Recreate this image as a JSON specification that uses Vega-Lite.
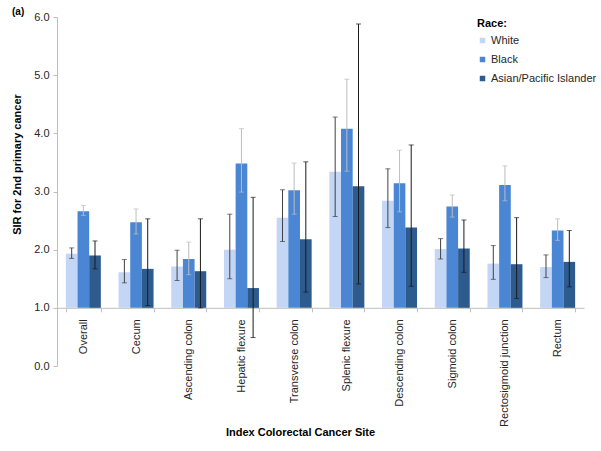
{
  "$schema": "https://vega.github.io/schema/vega-lite/v6.json",
  "autosize": {"type": "none"},
  "width": 527,
  "height": 349,
  "padding": {"left": 57, "top": 17, "right": 17, "bottom": 85},
  "background": "white",
  "title": {"text": "(a)", "anchor": "start", "frame": "group", "dx": -45, "dy": 10, "fontSize": 10, "fontWeight": "bold", "font": "Liberation Sans", "color": "#000000"},
  "config": {
    "view": {"stroke": null},
    "font": "Liberation Sans"
  },
  "data": {
    "values": [
      {"site": "Overall", "race": "White", "sir": 1.93, "lo": 1.85, "hi": 2.03},
      {"site": "Overall", "race": "Black", "sir": 2.66, "lo": 2.59, "hi": 2.76},
      {"site": "Overall", "race": "Asian/Pacific Islander", "sir": 1.90, "lo": 1.67, "hi": 2.15},
      {"site": "Cecum", "race": "White", "sir": 1.61, "lo": 1.43, "hi": 1.83},
      {"site": "Cecum", "race": "Black", "sir": 2.47, "lo": 2.27, "hi": 2.70},
      {"site": "Cecum", "race": "Asian/Pacific Islander", "sir": 1.67, "lo": 1.04, "hi": 2.53},
      {"site": "Ascending colon", "race": "White", "sir": 1.71, "lo": 1.47, "hi": 1.99},
      {"site": "Ascending colon", "race": "Black", "sir": 1.84, "lo": 1.57, "hi": 2.13},
      {"site": "Ascending colon", "race": "Asian/Pacific Islander", "sir": 1.63, "lo": 1.00, "hi": 2.53},
      {"site": "Hepatic flexure", "race": "White", "sir": 2.00, "lo": 1.50, "hi": 2.61},
      {"site": "Hepatic flexure", "race": "Black", "sir": 3.48, "lo": 2.99, "hi": 4.08},
      {"site": "Hepatic flexure", "race": "Asian/Pacific Islander", "sir": 1.34, "lo": 0.49, "hi": 2.90},
      {"site": "Transverse colon", "race": "White", "sir": 2.55, "lo": 2.14, "hi": 3.03},
      {"site": "Transverse colon", "race": "Black", "sir": 3.02, "lo": 2.61, "hi": 3.49},
      {"site": "Transverse colon", "race": "Asian/Pacific Islander", "sir": 2.18, "lo": 1.27, "hi": 3.51},
      {"site": "Splenic flexure", "race": "White", "sir": 3.34, "lo": 2.57, "hi": 4.28},
      {"site": "Splenic flexure", "race": "Black", "sir": 4.08, "lo": 3.35, "hi": 4.93},
      {"site": "Splenic flexure", "race": "Asian/Pacific Islander", "sir": 3.09, "lo": 1.41, "hi": 5.88},
      {"site": "Descending colon", "race": "White", "sir": 2.84, "lo": 2.38, "hi": 3.39},
      {"site": "Descending colon", "race": "Black", "sir": 3.14, "lo": 2.65, "hi": 3.71},
      {"site": "Descending colon", "race": "Asian/Pacific Islander", "sir": 2.38, "lo": 1.37, "hi": 3.80},
      {"site": "Sigmoid colon", "race": "White", "sir": 2.01, "lo": 1.84, "hi": 2.19},
      {"site": "Sigmoid colon", "race": "Black", "sir": 2.74, "lo": 2.56, "hi": 2.94},
      {"site": "Sigmoid colon", "race": "Asian/Pacific Islander", "sir": 2.02, "lo": 1.61, "hi": 2.51},
      {"site": "Rectosigmoid junction", "race": "White", "sir": 1.76, "lo": 1.49, "hi": 2.07},
      {"site": "Rectosigmoid junction", "race": "Black", "sir": 3.11, "lo": 2.84, "hi": 3.44},
      {"site": "Rectosigmoid junction", "race": "Asian/Pacific Islander", "sir": 1.75, "lo": 1.16, "hi": 2.55},
      {"site": "Rectum", "race": "White", "sir": 1.70, "lo": 1.52, "hi": 1.91},
      {"site": "Rectum", "race": "Black", "sir": 2.33, "lo": 2.16, "hi": 2.53},
      {"site": "Rectum", "race": "Asian/Pacific Islander", "sir": 1.79, "lo": 1.36, "hi": 2.33}
    ]
  },
  "encoding": {
    "x": {
      "field": "site",
      "type": "nominal",
      "sort": ["Overall", "Cecum", "Ascending colon", "Hepatic flexure", "Transverse colon", "Splenic flexure", "Descending colon", "Sigmoid colon", "Rectosigmoid junction", "Rectum"],
      "scale": {"paddingInner": 0.336, "paddingOuter": 0.168},
      "axis": {
        "title": "Index Colorectal Cancer Site",
        "titleFontSize": 11,
        "titleFontWeight": "bold",
        "titleColor": "#000000",
        "titleX": 243,
        "titleY": 125,
        "titleAnchor": null,
        "titleAlign": "center",
        "titleBaseline": "middle",
        "labelAngle": -90,
        "labelFontSize": 11,
        "labelColor": "#262626",
        "labelPadding": 7,
        "offset": -58.2,
        "domainColor": "#bfbfbf",
        "tickColor": "#bfbfbf",
        "tickSize": 4,
        "tickBand": "extent",
        "grid": false
      }
    },
    "xOffset": {
      "field": "race",
      "type": "nominal",
      "sort": ["White", "Black", "Asian/Pacific Islander"],
      "scale": {"paddingInner": 0, "paddingOuter": 0}
    }
  },
  "layer": [
    {
      "mark": {"type": "bar", "cornerRadius": 0},
      "encoding": {
        "y": {
          "field": "sir",
          "type": "quantitative",
          "scale": {"domain": [0, 6], "nice": false, "zero": true},
          "axis": {
            "title": "SIR for 2nd primary cancer",
            "titleFontSize": 11,
            "titleFontWeight": "bold",
            "titleColor": "#000000",
            "titleAngle": 270,
            "titleX": -40,
            "titleY": 147,
            "titleAnchor": null,
            "titleAlign": "center",
            "titleBaseline": "middle",
            "values": [0, 0.5, 1, 1.5, 2, 2.5, 3, 3.5, 4, 4.5, 5, 5.5, 6],
            "labelExpr": "datum.value % 1 === 0 ? format(datum.value, '.1f') : ''",
            "labelFontSize": 11,
            "labelColor": "#262626",
            "labelPadding": 4,
            "domainColor": "#bfbfbf",
            "tickColor": "#bfbfbf",
            "tickSize": 4,
            "grid": false
          }
        },
        "y2": {"datum": 1},
        "color": {
          "field": "race",
          "type": "nominal",
          "sort": ["White", "Black", "Asian/Pacific Islander"],
          "scale": {"domain": ["White", "Black", "Asian/Pacific Islander"], "range": ["#c3d6f5", "#4a86d4", "#2e5b8e"]},
          "legend": {
            "title": "Race:",
            "orient": "none",
            "legendX": 420,
            "legendY": 1,
            "titleFontSize": 11,
            "titleFontWeight": "bold",
            "titleColor": "#000000",
            "titlePadding": 6,
            "labelFontSize": 11,
            "labelColor": "#262626",
            "labelOffset": 3,
            "symbolType": "square",
            "symbolSize": 30,
            "symbolStrokeWidth": 0,
            "rowPadding": 7
          }
        }
      }
    },
    {
      "mark": {"type": "rule", "strokeWidth": 1},
      "encoding": {
        "y": {"field": "lo", "type": "quantitative"},
        "y2": {"field": "hi"},
        "stroke": {
          "field": "race",
          "type": "nominal",
          "scale": {"domain": ["White", "Black", "Asian/Pacific Islander"], "range": ["#404040", "#bdbdbd", "#1a1a1a"]},
          "legend": null
        }
      }
    },
    {
      "mark": {"type": "tick", "size": 5, "thickness": 1},
      "encoding": {
        "y": {"field": "hi", "type": "quantitative"},
        "color": {
          "field": "race",
          "type": "nominal",
          "scale": {"domain": ["White", "Black", "Asian/Pacific Islander"], "range": ["#404040", "#bdbdbd", "#1a1a1a"]},
          "legend": null
        }
      }
    },
    {
      "mark": {"type": "tick", "size": 5, "thickness": 1},
      "encoding": {
        "y": {"field": "lo", "type": "quantitative"},
        "color": {
          "field": "race",
          "type": "nominal",
          "scale": {"domain": ["White", "Black", "Asian/Pacific Islander"], "range": ["#404040", "#bdbdbd", "#1a1a1a"]},
          "legend": null
        }
      }
    }
  ],
  "resolve": {"scale": {"color": "independent"}}
}
